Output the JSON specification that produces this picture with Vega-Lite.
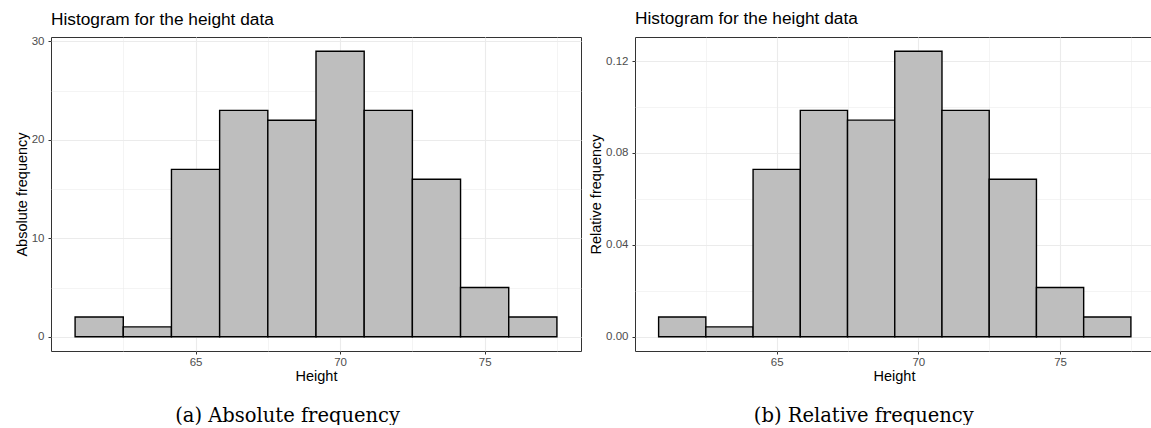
{
  "$schema": "https://vega.github.io/schema/vega-lite/v6.json",
  "background": "white",
  "padding": {"left": 13, "top": 9, "right": 0, "bottom": 0},
  "datasets": {
    "heights": [
      {"bin_start": 60.8333, "bin_end": 62.5, "count": 2, "density": 0.00857},
      {"bin_start": 62.5, "bin_end": 64.1667, "count": 1, "density": 0.00429},
      {"bin_start": 64.1667, "bin_end": 65.8333, "count": 17, "density": 0.07286},
      {"bin_start": 65.8333, "bin_end": 67.5, "count": 23, "density": 0.09857},
      {"bin_start": 67.5, "bin_end": 69.1667, "count": 22, "density": 0.09429},
      {"bin_start": 69.1667, "bin_end": 70.8333, "count": 29, "density": 0.12429},
      {"bin_start": 70.8333, "bin_end": 72.5, "count": 23, "density": 0.09857},
      {"bin_start": 72.5, "bin_end": 74.1667, "count": 16, "density": 0.06857},
      {"bin_start": 74.1667, "bin_end": 75.8333, "count": 5, "density": 0.02143},
      {"bin_start": 75.8333, "bin_end": 77.5, "count": 2, "density": 0.00857}
    ]
  },
  "config": {
    "font": "Liberation Sans",
    "view": {"stroke": "#333333", "strokeWidth": 1},
    "axis": {
      "domain": false,
      "labelFont": "Liberation Sans",
      "labelFontSize": 11.5,
      "labelColor": "#4D4D4D",
      "titleFont": "Liberation Sans",
      "titleFontSize": 14.5,
      "titleFontWeight": "normal",
      "titleColor": "black",
      "tickColor": "#333333",
      "tickWidth": 1,
      "tickSize": 3,
      "gridColor": "#EBEBEB",
      "labelPadding": 2,
      "titlePadding": 2
    },
    "axisY": {"labelPadding": 4},
    "title": {
      "font": "Liberation Sans",
      "fontWeight": "normal",
      "color": "black"
    }
  },
  "spacing": 6,
  "hconcat": [
    {
      "title": {"text": "(a) Absolute frequency", "orient": "bottom", "anchor": "middle", "font": "DejaVu Serif", "fontSize": 19.5, "fontWeight": "normal", "color": "black", "offset": 23, "dx": -10},
      "vconcat": [
        {
          "width": 530,
          "height": 314,
          "data": {"name": "heights"},
          "title": {"text": "Histogram for the height data", "anchor": "start", "frame": "group", "fontSize": 17.3, "baseline": "alphabetic", "offset": -7},
          "mark": {"type": "rect", "fill": "#BEBEBE", "stroke": "black", "strokeWidth": 1.4},
          "encoding": {
            "x": {
              "field": "bin_start", "type": "quantitative", "title": "Height",
              "scale": {"domain": [60, 78.333], "nice": false, "zero": false},
              "axis": {
                "values": [62.5, 65, 67.5, 70, 72.5, 75, 77.5],
                "format": "d",
                "labelExpr": "datum.value % 5 === 0 ? datum.label : ''",
                "tickOpacity": {"condition": {"test": "datum.value % 5 === 0", "value": 1}, "value": 0},
                "gridWidth": {"condition": {"test": "datum.value % 5 === 0", "value": 1.1}, "value": 0.55}
              }
            },
            "x2": {"field": "bin_end"},
            "y": {
              "field": "count", "type": "quantitative", "title": "Absolute frequency",
              "scale": {"domain": [-1.45, 30.45], "nice": false, "zero": false},
              "axis": {
                "values": [0, 5, 10, 15, 20, 25, 30],
                "format": "d",
                "labelExpr": "datum.value % 10 === 0 ? datum.label : ''",
                "tickOpacity": {"condition": {"test": "datum.value % 10 === 0", "value": 1}, "value": 0},
                "gridWidth": {"condition": {"test": "datum.value % 10 === 0", "value": 1.1}, "value": 0.55}
              }
            },
            "y2": {"datum": 0}
          }
        }
      ]
    },
    {
      "title": {"text": "(b) Relative frequency", "orient": "bottom", "anchor": "middle", "font": "DejaVu Serif", "fontSize": 19.5, "fontWeight": "normal", "color": "black", "offset": 23, "dx": -7},
      "vconcat": [
        {
          "width": 518,
          "height": 314,
          "data": {"name": "heights"},
          "title": {"text": "Histogram for the height data", "anchor": "start", "frame": "group", "fontSize": 17.3, "baseline": "alphabetic", "offset": -4},
          "mark": {"type": "rect", "fill": "#BEBEBE", "stroke": "black", "strokeWidth": 1.4},
          "encoding": {
            "x": {
              "field": "bin_start", "type": "quantitative", "title": "Height",
              "scale": {"domain": [60, 78.28], "nice": false, "zero": false},
              "axis": {
                "values": [62.5, 65, 67.5, 70, 72.5, 75, 77.5],
                "format": "d",
                "labelExpr": "datum.value % 5 === 0 ? datum.label : ''",
                "tickOpacity": {"condition": {"test": "datum.value % 5 === 0", "value": 1}, "value": 0},
                "gridWidth": {"condition": {"test": "datum.value % 5 === 0", "value": 1.1}, "value": 0.55}
              }
            },
            "x2": {"field": "bin_end"},
            "y": {
              "field": "density", "type": "quantitative", "title": "Relative frequency",
              "scale": {"domain": [-0.00621, 0.1305], "nice": false, "zero": false},
              "axis": {
                "values": [0, 0.02, 0.04, 0.06, 0.08, 0.1, 0.12],
                "format": ".2f",
                "labelExpr": "indexof([0, 0.04, 0.08, 0.12], datum.value) >= 0 ? datum.label : ''",
                "tickOpacity": {"condition": {"test": "indexof([0, 0.04, 0.08, 0.12], datum.value) >= 0", "value": 1}, "value": 0},
                "gridWidth": {"condition": {"test": "indexof([0, 0.04, 0.08, 0.12], datum.value) >= 0", "value": 1.1}, "value": 0.55}
              }
            },
            "y2": {"datum": 0}
          }
        }
      ]
    }
  ]
}
